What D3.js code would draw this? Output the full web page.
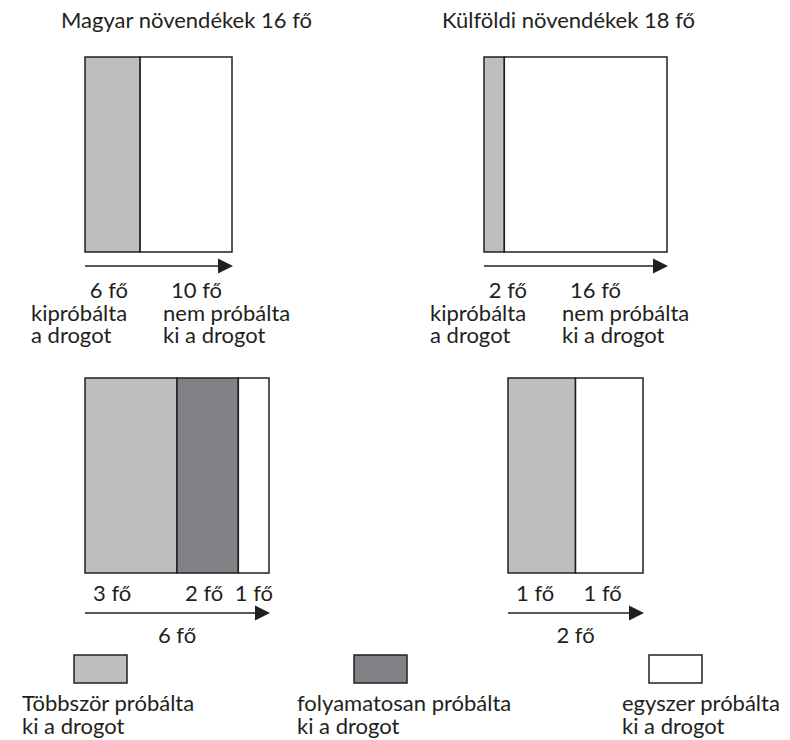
<!DOCTYPE html>
<html>
<head>
<meta charset="utf-8">
<script src="https://cdn.jsdelivr.net/npm/d3@7"></script>
<style>
  html, body { margin: 0; padding: 0; background: #ffffff; }
  svg text { font-family: Lato, "Open Sans", sans-serif; fill: #231f20; }
</style>
</head>
<body>
<svg id="chart" width="790" height="740"></svg>
<script>
// ---------------- DATA ----------------
const groupNames = ["Magyar növendékek", "Külföldi növendékek"];
const groupTotals = [16, 18];
const triedCounts = [6, 2];
const notTriedCounts = [10, 16];
const triedText = ["kipróbálta", "a drogot"];
const notTriedText = ["nem próbálta", "ki a drogot"];
const unit = "fő";

const usageCategories = ["Többször próbálta", "folyamatosan próbálta", "egyszer próbálta"];
const usageSubText = "ki a drogot";
const magyarUsage = [3, 2, 1];
const kulfoldiUsage = [1, 0, 1];

const usageColors = ["#bcbec0", "#808285", "#ffffff"];
const notTriedColor = "#ffffff";
const ink = "#231f20";

// ---------------- LAYOUT ----------------
const svg = d3.select("#chart");
const FS = 22;

const topPanels = [
  { x0: 85, x1: 232, titleX: 61 },
  { x0: 484, x1: 667, titleX: 442 }
];
const topY0 = 57, topY1 = 252;
const bottomPanels = [
  { x0: 85, x1: 269 },
  { x0: 508, x1: 643 }
];
const botY0 = 378, botY1 = 573;

function arrow(x0, x1, y) {
  svg.append("line")
    .attr("x1", x0).attr("x2", x1 - 12).attr("y1", y).attr("y2", y)
    .attr("stroke", ink).attr("stroke-width", 1.5);
  svg.append("path")
    .attr("d", `M${x1},${y} L${x1 - 15},${y - 7.5} L${x1 - 15},${y + 7.5} Z`)
    .attr("fill", ink);
}

function txt(x, y, s, anchor) {
  return svg.append("text")
    .attr("x", x).attr("y", y)
    .attr("text-anchor", anchor || "start")
    .attr("font-size", FS)
    .text(s);
}

// multi-line block: lines = [{x, y, s, anchor}]
function block(lines) {
  const t = svg.append("text").attr("font-size", FS);
  lines.forEach(l => {
    t.append("tspan")
      .attr("x", l.x).attr("y", l.y)
      .attr("text-anchor", l.anchor || "start")
      .text(l.s);
  });
  return t;
}

// ---------------- TOP PANELS ----------------
topPanels.forEach((p, i) => {
  const x = d3.scaleLinear().domain([0, groupTotals[i]]).range([p.x0, p.x1]);
  const segs = [
    { v0: 0, v1: triedCounts[i], fill: usageColors[0] },
    { v0: triedCounts[i], v1: triedCounts[i] + notTriedCounts[i], fill: notTriedColor }
  ];
  txt(p.titleX, 28, `${groupNames[i]} ${groupTotals[i]} ${unit}`);

  svg.append("g").selectAll("rect").data(segs).join("rect")
    .attr("x", d => x(d.v0))
    .attr("y", topY0)
    .attr("width", d => x(d.v1) - x(d.v0))
    .attr("height", topY1 - topY0)
    .attr("fill", d => d.fill)
    .attr("stroke", ink).attr("stroke-width", 1.5);

  arrow(p.x0, p.x1 + 1, 266);

  block([
    { x: p.x0 + 43, y: 298, s: `${triedCounts[i]} ${unit}`, anchor: "end" },
    { x: p.x0 - 54, y: 320.5, s: triedText[0] },
    { x: p.x0 - 54, y: 343, s: triedText[1] }
  ]);
  block([
    { x: p.x0 + 86, y: 298, s: `${notTriedCounts[i]} ${unit}` },
    { x: p.x0 + 78, y: 320.5, s: notTriedText[0] },
    { x: p.x0 + 78, y: 343, s: notTriedText[1] }
  ]);
});

// ---------------- BOTTOM PANELS ----------------
[magyarUsage, kulfoldiUsage].forEach((vals, i) => {
  const p = bottomPanels[i];
  const total = d3.sum(vals);
  const x = d3.scaleLinear().domain([0, total]).range([p.x0, p.x1]);
  let acc = 0;
  const segs = vals.map((v, k) => { const s = { v0: acc, v1: acc + v, v, fill: usageColors[k] }; acc += v; return s; })
    .filter(d => d.v > 0);

  svg.append("g").selectAll("rect").data(segs).join("rect")
    .attr("x", d => x(d.v0))
    .attr("y", botY0)
    .attr("width", d => x(d.v1) - x(d.v0))
    .attr("height", botY1 - botY0)
    .attr("fill", d => d.fill)
    .attr("stroke", ink).attr("stroke-width", 1.5);

  segs.forEach(d => {
    const t = txt(x(d.v0) + 8, 601, `${d.v} ${unit}`);
    const w = t.node().getComputedTextLength();
    const maxStart = p.x1 + 4 - w;
    if (x(d.v0) + 8 > maxStart) t.attr("x", maxStart);
  });

  arrow(p.x0, p.x1 + 1, 613);
  txt((p.x0 + p.x1) / 2, 643, `${total} ${unit}`, "middle");
});

// ---------------- LEGEND ----------------
const legendSw = [74, 354, 649];
const legendTx = [22, 297, 622];
usageCategories.forEach((c, k) => {
  svg.append("rect")
    .attr("x", legendSw[k]).attr("y", 655)
    .attr("width", 53).attr("height", 28)
    .attr("fill", usageColors[k])
    .attr("stroke", ink).attr("stroke-width", 1.5);
  block([
    { x: legendTx[k], y: 711, s: c },
    { x: legendTx[k], y: 733.5, s: usageSubText }
  ]);
});
</script>
</body>
</html>
